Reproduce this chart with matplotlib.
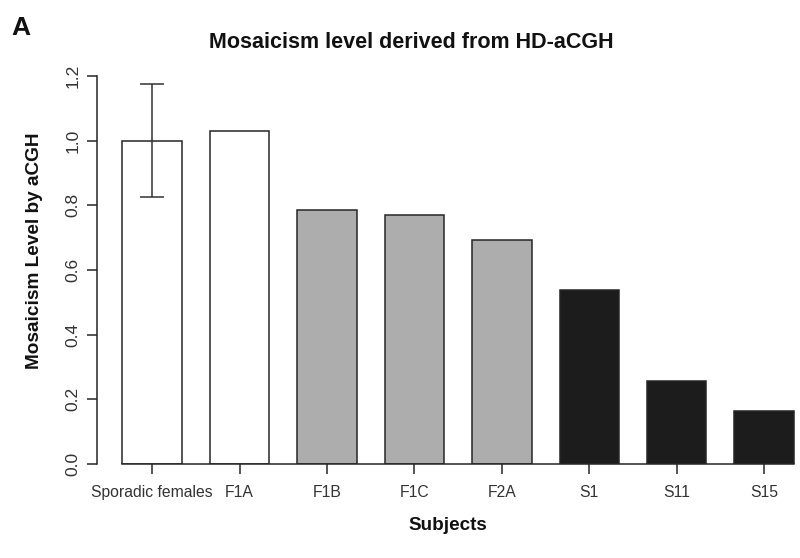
import matplotlib.pyplot as plt

plt.rcParams["font.family"] = ["Liberation Sans", "DejaVu Sans"]

# values
subjects = ["Sporadic females", "F1A", "F1B", "F1C", "F2A", "S1", "S11", "S15"]
levels = [1.00, 1.03, 0.786, 0.771, 0.693, 0.539, 0.257, 0.164]
sporadic_err = 0.175
bar_colors = ["white", "white", "#adadad", "#adadad", "#adadad",
              "#1c1c1c", "#1c1c1c", "#1c1c1c"]
y_ticks = [0.0, 0.2, 0.4, 0.6, 0.8, 1.0, 1.2]

W, H = 800, 558
fig = plt.figure(figsize=(W / 100, H / 100), dpi=100)
ax = fig.add_axes([97 / W, 1 - 464 / H, 703 / W, 388 / H])

x = list(range(len(subjects)))
ax.bar(x, levels, width=0.68, color=bar_colors, edgecolor="#262626", linewidth=1.1)
# error bar on the sporadic females group only
ax.errorbar(x[0], levels[0], yerr=sporadic_err, color="#333333", capsize=8.5,
            elinewidth=1.1, capthick=1.1, clip_on=False)

ax.set_xlim(-0.63, 7.41)
ax.set_ylim(0, 1.2)

# R base-graphics look: detached axes, no box
ax.spines["top"].set_visible(False)
ax.spines["right"].set_visible(False)
ax.spines["bottom"].set_bounds(-0.34, 7.34)
for s in ["left", "bottom"]:
    ax.spines[s].set_linewidth(1.1)
    ax.spines[s].set_color("#262626")

ax.set_xticks(x)
ax.set_xticklabels(subjects)
ax.set_yticks(y_ticks)
ax.set_yticklabels([f"{t:.1f}" for t in y_ticks], rotation=90, va="center")
ax.tick_params(axis="both", length=7, width=1.1, color="#262626",
               labelcolor="#333333")
ax.tick_params(axis="x", pad=8, labelsize=11.3)
ax.tick_params(axis="y", pad=5, labelsize=12.5)

fig.text(411 / W, 1 - 42 / H, "Mosaicism level derived from HD-aCGH",
         ha="center", va="center", fontsize=15.5, fontweight="bold", color="#111111")
fig.text(21 / W, 1 - 28 / H, "A", ha="center", va="center",
         fontsize=19, fontweight="bold", color="#111111")
fig.text(448 / W, 1 - 525 / H, "Subjects", ha="center", va="center",
         fontsize=13.6, fontweight="bold", color="#111111")
fig.text(35 / W, 1 - 251 / H, "Mosaicism Level by aCGH", ha="center", va="center",
         rotation=90, fontsize=13.7, fontweight="bold", color="#111111")

fig.savefig("out.png", dpi=100, facecolor="white")
